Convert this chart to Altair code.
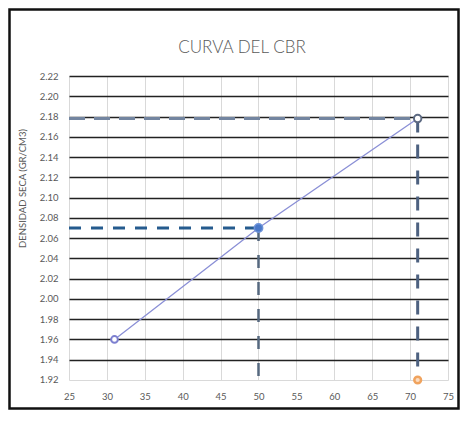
import altair as alt
import pandas as pd

# ---- data ----
title_text = "CURVA DEL CBR"
y_title = "DENSIDAD SECA (GR/CM3)"
cbr = [31, 50, 71]
densidad = [1.96, 2.07, 2.178]
extra_x = [71]
extra_y = [1.92]
x_ticks = [25, 30, 35, 40, 45, 50, 55, 60, 65, 70, 75]
y_ticks = [1.92, 1.94, 1.96, 1.98, 2.00, 2.02, 2.04, 2.06, 2.08, 2.10,
           2.12, 2.14, 2.16, 2.18, 2.20, 2.22]

x_min, x_max = x_ticks[0], x_ticks[-1]
y_min, y_max = y_ticks[0], y_ticks[-1]

df = pd.DataFrame({"cbr": cbr, "dens": densidad})
df_extra = pd.DataFrame({"cbr": extra_x, "dens": extra_y})

W, H = 379, 304
PAD_L, PAD_T, PAD_R, PAD_B = 61, 68, 12, 30
SVG_W = PAD_L + W + PAD_R
SVG_H = PAD_T + H + PAD_B

xscale = alt.Scale(domain=[x_min - 0.001, x_max + 0.001], nice=False, zero=False)
yscale = alt.Scale(domain=[y_min - 0.00001, y_max + 0.00001], nice=False, zero=False)

label_font = "Lato"
label_color = "#595959"

xaxis = alt.Axis(values=x_ticks, tickCount=len(x_ticks) + 5, title=None, grid=True,
                 gridColor="#d9d9d9",
                 gridWidth=1, domain=False, ticks=False, labelPadding=11,
                 labelOverlap=False, labelFlush=False,
                 labelFontSize=9.5, labelColor=label_color, labelFont=label_font)
yaxis = alt.Axis(values=y_ticks, tickCount=len(y_ticks) + 5, format=".2f", title=y_title,
                 grid=True,
                 gridColor={"condition": {"test": "datum.value < 1.925", "value": "#d9d9d9"},
                            "value": "#222222"},
                 gridWidth={"condition": {"test": "datum.value < 1.925", "value": 1},
                            "value": 1.6},
                 domain=False, ticks=False, labelPadding=11,
                 labelOverlap=False, labelFlush=False,
                 labelFontSize=9.5, labelColor=label_color, labelFont=label_font,
                 titleFontSize=9.5, titleFontWeight="normal", titleColor=label_color,
                 titleFont=label_font, titleX=-47, titleY=112, titleAngle=270,
                 titleAlign="center", titleBaseline="middle")

X = alt.X("cbr:Q", scale=xscale, axis=xaxis)
Y = alt.Y("dens:Q", scale=yscale, axis=yaxis)

# frame around the whole chart
frame = alt.Chart(pd.DataFrame({"a": [0]})).mark_rect(
    fill=None, stroke="#111111", strokeWidth=2.5
).encode(
    x=alt.value(1.5 - PAD_L), x2=alt.value(SVG_W - 1.5 - PAD_L),
    y=alt.value(1.5 - PAD_T), y2=alt.value(SVG_H - 1.5 - PAD_T)
)

# dashed reference lines built from the data values
def hrule(i, color, dash, width):
    d = pd.DataFrame({"x0": [x_min], "x1": [cbr[i]], "y": [densidad[i]]})
    return alt.Chart(d).mark_rule(color=color, strokeDash=dash, strokeWidth=width).encode(
        x=alt.X("x0:Q", scale=xscale), x2="x1:Q", y=alt.Y("y:Q", scale=yscale))

def vrule(i, color, dash, width):
    d = pd.DataFrame({"x": [cbr[i]], "y0": [densidad[i]], "y1": [y_min]})
    return alt.Chart(d).mark_rule(color=color, strokeDash=dash, strokeWidth=width).encode(
        x=alt.X("x:Q", scale=xscale), y=alt.Y("y0:Q", scale=yscale), y2="y1:Q")

h_top = hrule(2, "#7385a0", [16, 9], 3)
v_top = vrule(2, "#4d6180", [14, 12], 3)
h_mid = hrule(1, "#255b8e", [12, 10], 3)
v_mid = vrule(1, "#55687f", [13, 14], 2.5)

base = alt.Chart(df).encode(x=X, y=Y)
line = base.mark_line(color="#8a8fd6", strokeWidth=1.3)

p1 = alt.Chart(df.iloc[[0]]).mark_point(
    shape="circle", filled=True, fill="white", stroke="#7c7fd0", strokeWidth=2, size=45, opacity=1
).encode(x=X, y=Y)
p2 = alt.Chart(df.iloc[[1]]).mark_point(
    shape="circle", filled=True, fill="#4a78c8", stroke="#6d92d8", strokeWidth=1.5, size=70, opacity=1
).encode(x=X, y=Y)
p3 = alt.Chart(df.iloc[[2]]).mark_point(
    shape="circle", filled=True, fill="white", stroke="#5d6a82", strokeWidth=2, size=55, opacity=1
).encode(x=X, y=Y)
p4 = alt.Chart(df_extra).mark_point(
    shape="circle", filled=True, fill="#fbdcc0", stroke="#f0a35e", strokeWidth=2.5, size=45, opacity=1
).encode(x=X, y=Y)

title = alt.Chart(pd.DataFrame({"t": [title_text]})).mark_text(
    font="Lato", fontSize=17, fontWeight=300, color="#595959", align="center", baseline="middle"
).encode(text="t:N", x=alt.value(173), y=alt.value(-28))

chart = alt.layer(
    line, h_top, v_top, h_mid, v_mid, p1, p2, p3, p4, title, frame
).properties(
    width=W, height=H,
    autosize=alt.AutoSizeParams(type="none"),
    padding={"left": PAD_L, "top": PAD_T, "right": PAD_R, "bottom": PAD_B},
    background="white"
).configure_view(stroke=None)

chart.save("out.html", embed_options={"renderer": "svg", "actions": False})
